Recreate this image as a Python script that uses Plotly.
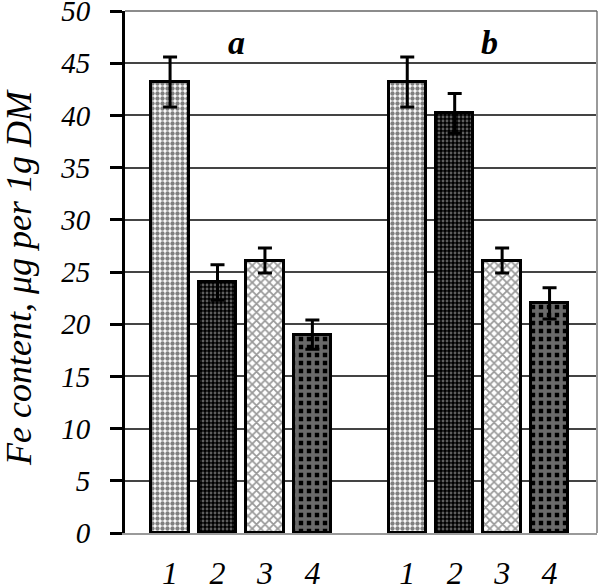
import plotly.graph_objects as go

groups = ["a", "b"]
treatments = ["1", "2", "3", "4"]
values_a = [43.2, 24.0, 26.1, 19.0]
values_b = [43.2, 40.2, 26.1, 22.0]
errors_a = [2.4, 1.7, 1.2, 1.4]
errors_b = [2.4, 1.9, 1.2, 1.5]
y_ticks = [0, 5, 10, 15, 20, 25, 30, 35, 40, 45, 50]
y_title = "Fe content, μg per 1g DM"

positions_a = [0, 1, 2, 3]
positions_b = [5, 6, 7, 8]

patterns = [
    dict(shape=".", fgcolor="black", bgcolor="white", size=5, solidity=0.6),
    dict(shape=".", fgcolor="#bbbbbb", bgcolor="black", size=4, solidity=0.4),
    dict(shape="x", fgcolor="#333333", bgcolor="white", size=6, solidity=0.5),
    dict(shape="+", fgcolor="#d4d4d4", bgcolor="black", size=8, solidity=0.7),
]

serif = "Times New Roman, Liberation Serif, Tinos, Noto Serif, DejaVu Serif, serif"
fig = go.Figure()
for i, t in enumerate(treatments):
    fig.add_trace(go.Bar(
        x=[positions_a[i], positions_b[i]],
        y=[values_a[i], values_b[i]],
        width=0.79,
        marker=dict(color="white", line=dict(color="black", width=3), pattern=patterns[i]),
        error_y=dict(type="data", array=[errors_a[i], errors_b[i]], color="black", thickness=3, width=7),
        showlegend=False,
    ))

for g, xpos in zip(groups, [1.39, 6.74]):
    fig.add_annotation(x=xpos, y=47.0, text="<b><i>" + g + "</i></b>", showarrow=False,
                       font=dict(family=serif, size=34, color="black"))

fig.add_annotation(xref="paper", yref="paper", x=-0.225, y=0.49, xanchor="center", yanchor="middle",
                   text="<i>" + y_title + "</i>", textangle=-90, showarrow=False,
                   font=dict(family=serif, size=36, color="black"))

fig.add_shape(type="line", xref="paper", yref="paper", x0=1, x1=1, y0=0, y1=1,
              line=dict(color="#9a9a9a", width=2))
fig.add_shape(type="line", xref="paper", yref="paper", x0=0, x1=1, y0=1, y1=1,
              line=dict(color="#666666", width=1.5))

fig.update_layout(
    width=600, height=586,
    margin=dict(l=125, r=3, t=11, b=53),
    plot_bgcolor="white", paper_bgcolor="white",
    bargap=0,
    xaxis=dict(
        range=[-0.95, 9.0],
        tickvals=positions_a + positions_b,
        ticktext=treatments + treatments,
        showgrid=False, zeroline=False,
        showline=True, linecolor="#9a9a9a", linewidth=2,
        ticks="", ticklabelstandoff=11, automargin=False,
        ticklabeloverflow="allow",
        tickfont=dict(family=serif, size=32, color="black", style="italic"),
    ),
    yaxis=dict(
        range=[0, 50],
        tickvals=y_ticks,
        showgrid=True, gridcolor="#444444", gridwidth=1.5,
        zeroline=False, automargin=False,
        showline=True, linecolor="black", linewidth=3,
        ticks="outside", ticklen=12, tickwidth=3, tickcolor="black",
        ticklabelstandoff=14, ticklabeloverflow="allow",
        tickfont=dict(family=serif, size=29, color="black", style="italic"),
    ),
)

fig.write_html("out.html", config={"displayModeBar": False},
               post_script="document.body.style.margin='0';")
